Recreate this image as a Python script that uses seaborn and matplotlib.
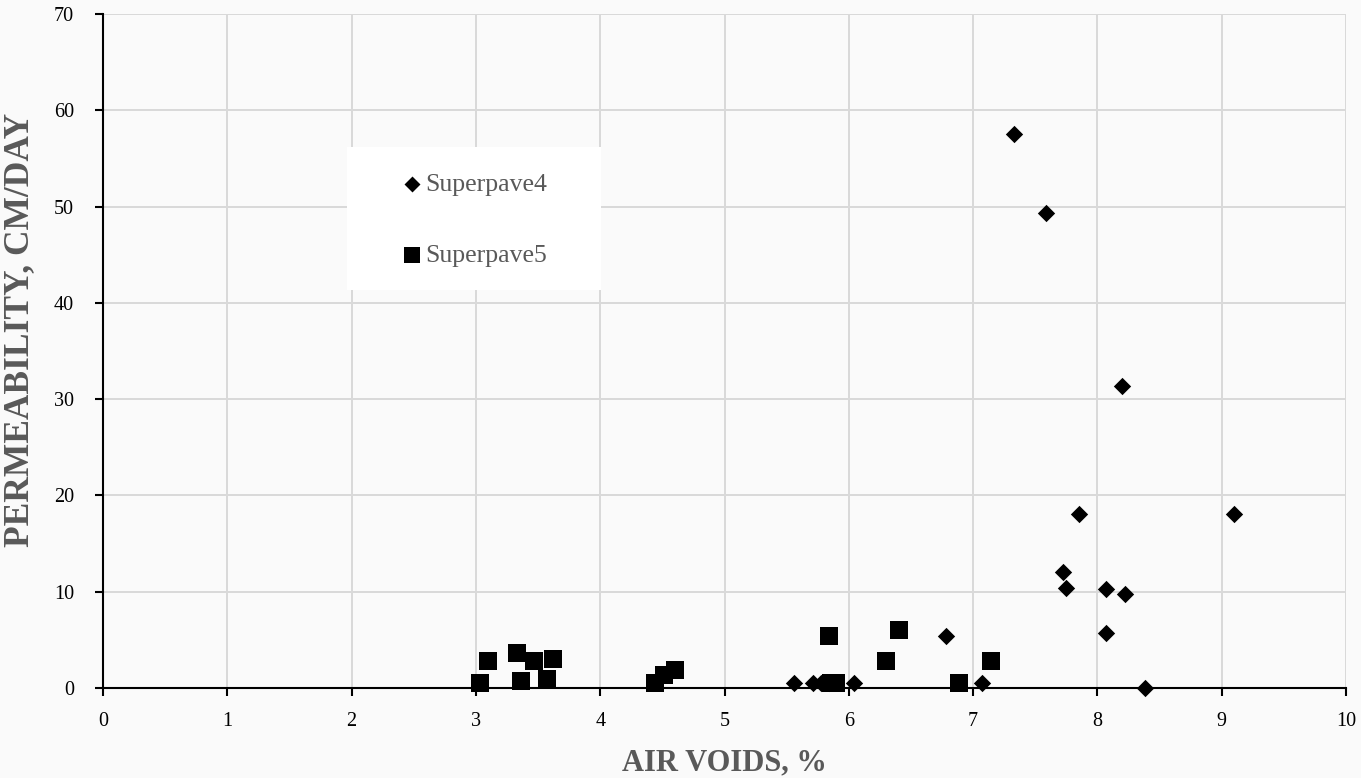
import matplotlib
matplotlib.use("Agg")
import matplotlib.pyplot as plt
from matplotlib.patches import Rectangle
import seaborn as sns
import pandas as pd

# Superpave4 (diamonds)
sp4_x = [7.33, 7.59, 8.20, 7.85, 9.10, 7.72, 7.75, 8.07, 8.22, 8.07, 6.78, 8.38, 7.07,
         5.56, 5.71, 5.78, 5.84, 6.04]
sp4_y = [57.5, 49.3, 31.4, 18.1, 18.1, 12.0, 10.4, 10.3, 9.8, 5.7, 5.4, 0.0, 0.5,
         0.5, 0.5, 0.5, 0.5, 0.5]

# Superpave5 (squares)
sp5_x = [3.03, 3.10, 3.33, 3.36, 3.47, 3.57, 3.62, 4.44, 4.51, 4.60,
         5.84, 5.86, 5.90, 6.30, 6.40, 6.89, 7.14]
sp5_y = [0.5, 2.8, 3.6, 0.7, 2.8, 0.9, 3.0, 0.5, 1.3, 1.9,
         5.4, 0.5, 0.5, 2.8, 6.0, 0.5, 2.8]

x_ticks = list(range(0, 11))
y_ticks = list(range(0, 71, 10))

df4 = pd.DataFrame({"x": sp4_x, "y": sp4_y, "series": "Superpave4"})
df5 = pd.DataFrame({"x": sp5_x, "y": sp5_y, "series": "Superpave5"})

sns.set_theme(style="whitegrid")
bg = "#fafafa"
fig = plt.figure(figsize=(13.61, 7.78), dpi=100, facecolor=bg)
ax = fig.add_axes([0.0757, 0.1157, 0.9133, 0.8663])
ax.set_facecolor(bg)

sns.scatterplot(data=df4, x="x", y="y", marker="D", s=78, color="black",
                edgecolor="black", linewidth=0, ax=ax, label="Superpave4", zorder=3,
                clip_on=False)
sns.scatterplot(data=df5, x="x", y="y", marker="s", s=150, color="black",
                edgecolor="black", linewidth=0, ax=ax, label="Superpave5", zorder=3,
                clip_on=False)

ax.set_xlim(0, 10)
ax.set_ylim(0, 70)
ax.set_xticks(x_ticks)
ax.set_yticks(y_ticks)
ax.set_xticklabels([str(v) for v in x_ticks], fontsize=14.5, family="Liberation Serif", color="black")
ax.set_yticklabels([str(v) for v in y_ticks], fontsize=14.5, family="Liberation Serif", color="black")

ax.grid(True, color="#d9d9d9", linewidth=1.4)
for side in ["top", "right"]:
    ax.spines[side].set_visible(False)
for side in ["left", "bottom"]:
    ax.spines[side].set_visible(True)
    ax.spines[side].set_color("black")
    ax.spines[side].set_linewidth(1.5)
ax.tick_params(axis="both", which="major", direction="out", length=6, width=1.5,
               color="black", left=True, bottom=True)
ax.tick_params(axis="y", pad=15)
ax.tick_params(axis="x", pad=11)

ax.set_xlabel("AIR VOIDS, %", fontsize=22, fontweight="bold", family="Liberation Serif",
              color="#595959", labelpad=13)
ax.set_ylabel("PERMEABILITY, CM/DAY", fontsize=25.5, fontweight="bold", family="Liberation Serif",
              color="#595959")
ax.yaxis.set_label_coords(-0.054, 0.531)

# legend background
ax.add_patch(Rectangle((0.1963, 0.5905), 0.2043, 0.2122, transform=ax.transAxes,
                       facecolor="white", edgecolor="none", zorder=4))
leg = ax.legend(loc="upper left", bbox_to_anchor=(0.2424, 0.764), frameon=False,
                prop={"family": "Liberation Serif", "size": 18.5}, labelspacing=1.85,
                borderpad=0, handlelength=0.6, handletextpad=0.2, borderaxespad=0,
                markerscale=0.92)
for t in leg.get_texts():
    t.set_color("#595959")
leg.set_zorder(5)

fig.savefig("out.png", dpi=100, facecolor=bg)
